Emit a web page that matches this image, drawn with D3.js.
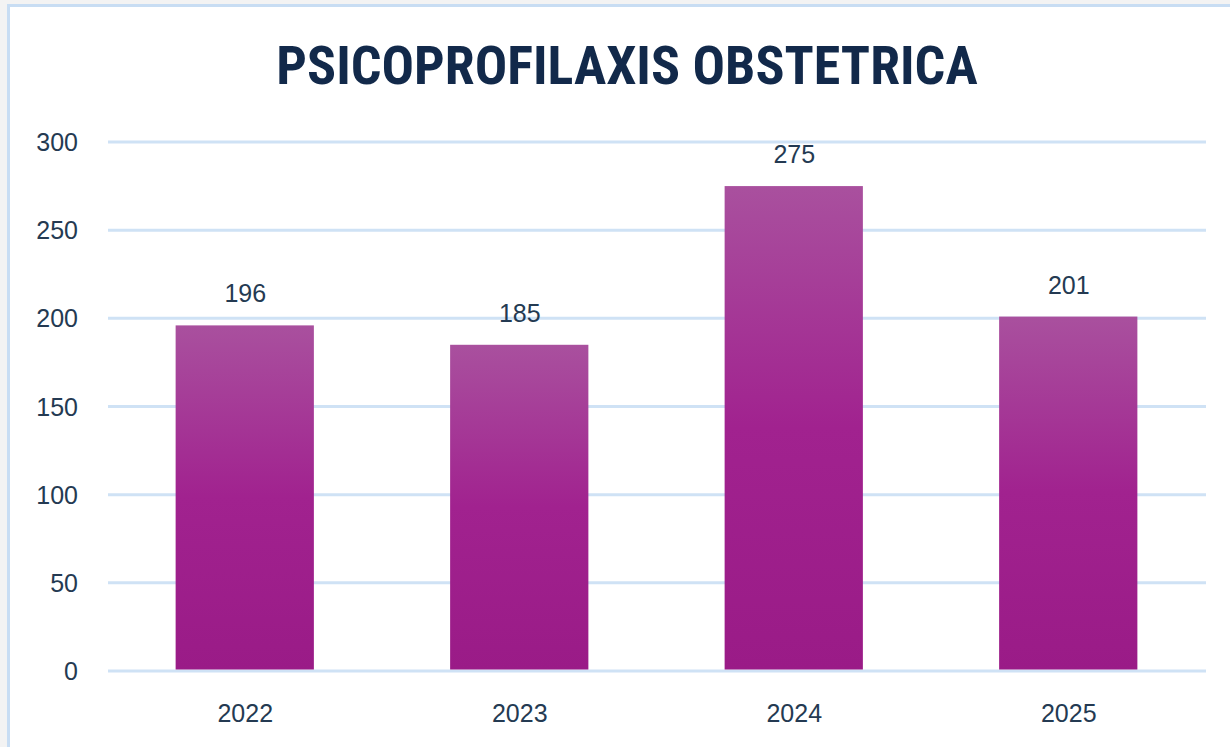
<!DOCTYPE html>
<html lang="es">
<head>
<meta charset="UTF-8">
<title>Psicoprofilaxis Obstetrica</title>
<script src="https://d3js.org/d3.v7.min.js"></script>
<style>
  body { margin: 0; background: #f3f3f3; }
  svg { display: block; }
</style>
</head>
<body>
<svg id="chart" width="1230" height="747"></svg>
<script>
// data
var years = ["2022", "2023", "2024", "2025"];
var values = [196, 185, 275, 201];
var yTicks = [0, 50, 100, 150, 200, 250, 300];
var title = "PSICOPROFILAXIS OBSTETRICA";

var svg = d3.select("#chart"),
    width = +svg.attr("width"),
    height = +svg.attr("height");

var margin = { top: 142, right: 22, bottom: 76, left: 108 };
var textColor = "#243a52";
var gridColor = "#cfe2f5";
var labelFont = "'Liberation Sans', Arial, sans-serif";

// white card with light blue top/left border
svg.append("rect")
    .attr("x", 7).attr("y", 4)
    .attr("width", width - 7).attr("height", height - 4)
    .attr("fill", "#fff");
svg.append("rect").attr("x", 7).attr("y", 4).attr("width", width - 7).attr("height", 3).attr("fill", "#c8ddf3");
svg.append("rect").attr("x", 7).attr("y", 4).attr("width", 3).attr("height", height - 4).attr("fill", "#c8ddf3");

var defs = svg.append("defs");
var grad = defs.append("linearGradient")
    .attr("id", "barGrad")
    .attr("x1", 0).attr("y1", 0).attr("x2", 0).attr("y2", 1);
grad.append("stop").attr("offset", "0%").attr("stop-color", "#a9509e");
grad.append("stop").attr("offset", "50%").attr("stop-color", "#a1228f");
grad.append("stop").attr("offset", "100%").attr("stop-color", "#9a1b87");

var x = d3.scaleBand()
    .domain(years)
    .range([margin.left, width - margin.right - 2])
    .paddingInner(0.5)
    .paddingOuter(0.25);

var y = d3.scaleLinear()
    .domain([0, 300])
    .range([height - margin.bottom, margin.top]);

// title
svg.append("text")
    .attr("x", 627)
    .attr("y", 84)
    .attr("text-anchor", "middle")
    .style("font-family", "'Liberation Sans Narrow', 'Roboto Condensed', 'Liberation Sans', sans-serif")
    .style("font-weight", "bold")
    .style("font-size", "54px")
    .style("fill", "#12294a")
    .text(title);

// gridlines
svg.append("g")
    .selectAll("line")
    .data(yTicks)
    .enter()
    .append("line")
    .attr("x1", margin.left)
    .attr("x2", width - margin.right - 2)
    .attr("y1", d => y(d))
    .attr("y2", d => y(d))
    .attr("stroke", gridColor)
    .attr("stroke-width", 3);

// y tick labels
svg.append("g")
    .selectAll("text")
    .data(yTicks)
    .enter()
    .append("text")
    .attr("x", 78)
    .attr("y", d => y(d))
    .attr("dy", "0.36em")
    .attr("text-anchor", "end")
    .style("font-family", labelFont)
    .style("font-size", "25px")
    .style("fill", textColor)
    .text(d => d);

// bars
svg.append("g")
    .selectAll("rect")
    .data(values)
    .enter()
    .append("rect")
    .attr("x", (d, i) => x(years[i]) - 1)
    .attr("y", d => y(d))
    .attr("width", x.bandwidth() + 1)
    .attr("height", d => y(0) - y(d) - 1.5)
    .attr("fill", "url(#barGrad)");

// value labels
svg.append("g")
    .selectAll("text")
    .data(values)
    .enter()
    .append("text")
    .attr("x", (d, i) => x(years[i]) + x.bandwidth() / 2)
    .attr("y", d => y(d) - 23)
    .attr("text-anchor", "middle")
    .style("font-family", labelFont)
    .style("font-size", "25px")
    .style("fill", textColor)
    .text(d => d);

// x labels
svg.append("g")
    .selectAll("text")
    .data(years)
    .enter()
    .append("text")
    .attr("x", d => x(d) + x.bandwidth() / 2)
    .attr("y", 722)
    .attr("text-anchor", "middle")
    .style("font-family", labelFont)
    .style("font-size", "25px")
    .style("fill", textColor)
    .text(d => d);
</script>
</body>
</html>
